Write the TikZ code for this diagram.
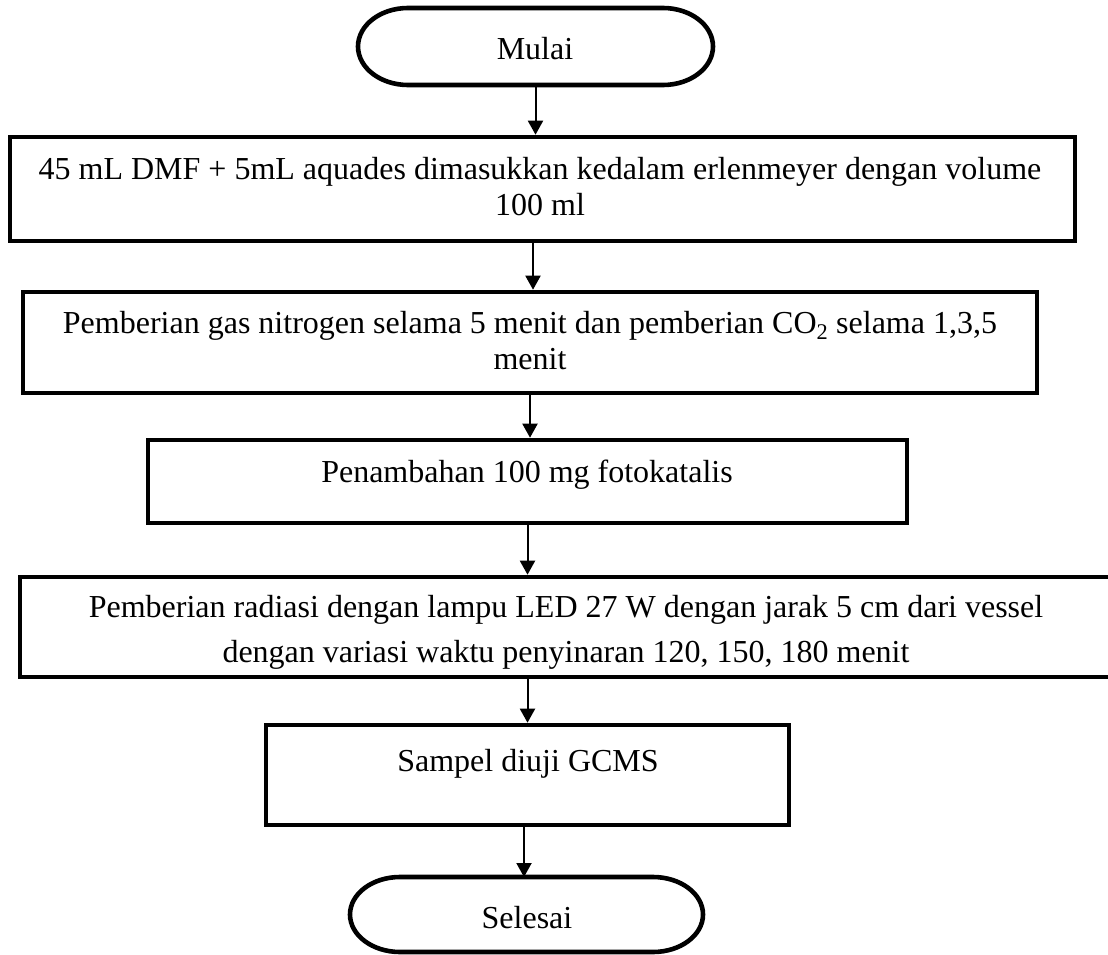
\documentclass[tikz,border=0pt]{standalone}
\usepackage{fontspec}
\setmainfont{Liberation Serif}
\usetikzlibrary{arrows.meta}
\newcommand{\twolines}[2]{\begin{tabular}[t]{@{}c@{}}#1\\#2\end{tabular}}
\begin{document}
\begin{tikzpicture}[x=1pt,y=-1pt,
  box/.style={draw, line width=4.6pt, rectangle, inner sep=0pt},
  termnode/.style={rectangle, inner sep=0pt, outer sep=0pt},
  termline/.style={line width=4.6pt},
  arr/.style={line width=2pt, -{Triangle[width=15pt,length=14pt]}},
  txt/.style={inner sep=0pt, anchor=base, font=\fontsize{32}{36}\selectfont},
  txtwide/.style={inner sep=0pt, anchor=base, font=\fontsize{32}{45}\selectfont}]
\useasboundingbox (0,0) rectangle (1108,955);
\fill[white] (0,0) rectangle (1108,955);

% terminals
\node[termnode, minimum width=355pt, minimum height=77pt] (t1) at (535.5,46.5) {};
\draw[termline] ([xshift=50pt]t1.north west) -- ([xshift=-50pt]t1.north east)
  arc[start angle=90, end angle=-90, x radius=50pt, y radius=38.5pt]
  -- ([xshift=50pt]t1.south west)
  arc[start angle=270, end angle=90, x radius=50pt, y radius=38.5pt] -- cycle;
\node[txt] (l0) at (535,60) {Mulai};

\node[termnode, minimum width=353pt, minimum height=75pt] (t2) at (526.5,914.5) {};
\draw[termline] ([xshift=50pt]t2.north west) -- ([xshift=-50pt]t2.north east)
  arc[start angle=90, end angle=-90, x radius=50pt, y radius=37.5pt]
  -- ([xshift=50pt]t2.south west)
  arc[start angle=270, end angle=90, x radius=50pt, y radius=37.5pt] -- cycle;
\node[txt] (l6) at (527,928) {Selesai};

% process boxes
\node[box, minimum width=1065pt, minimum height=104pt] (b1) at (542.5,189) {};
\node[txt] (l1) at (540,179) {\twolines{45 mL DMF + 5mL aquades dimasukkan kedalam erlenmeyer dengan volume}{100 ml}};

\node[box, minimum width=1014pt, minimum height=101pt] (b2) at (530,342.5) {};
\node[txt] (l2) at (530,333) {\twolines{Pemberian gas nitrogen selama 5 menit dan pemberian CO\textsubscript{2} selama 1,3,5}{menit}};

\node[box, minimum width=759pt, minimum height=83pt] (b3) at (527.5,481.5) {};
\node[txt] (l3) at (527,482) {Penambahan 100 mg fotokatalis};

\node[box, minimum width=1093pt, minimum height=100pt] (b4) at (566.5,627) {};
\node[txtwide] (l4) at (566,617) {\twolines{Pemberian radiasi dengan lampu LED 27 W dengan jarak 5 cm dari vessel}{dengan variasi waktu penyinaran 120, 150, 180 menit}};

\node[box, minimum width=523pt, minimum height=100pt] (b5) at (527.5,775) {};
\node[txt] (l5) at (528,771) {Sampel diuji GCMS};

% connectors
\draw[arr] (t1.south) -- (t1.south |- b1.north);
\draw[arr] ([xshift=-9.5pt]b1.south) -- ([xshift=-9.5pt]b1.south |- b2.north);
\draw[arr] (b2.south) -- (b2.south |- b3.north);
\draw[arr] (b3.south) -- (b3.south |- b4.north);
\draw[arr] (b5.north |- b4.south) -- (b5.north);
\draw[arr] ([xshift=-3.5pt]b5.south) -- ([xshift=-3.5pt]b5.south |- t2.north);
\end{tikzpicture}
\end{document}
